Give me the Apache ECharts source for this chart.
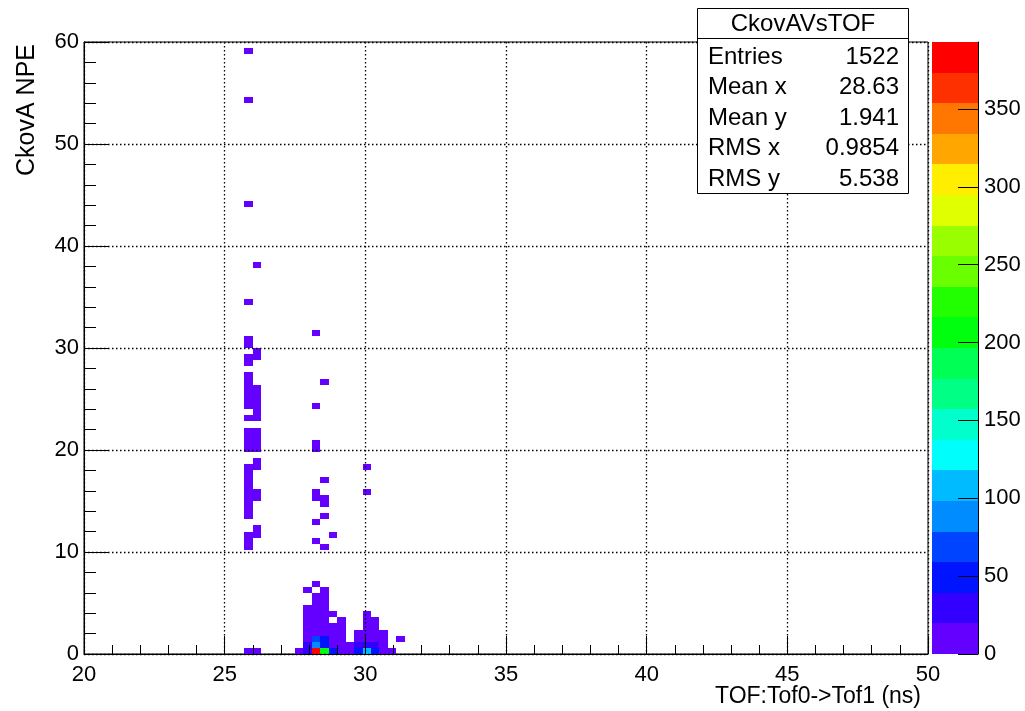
<!DOCTYPE html>
<html>
<head>
<meta charset="utf-8">
<script src="https://cdn.jsdelivr.net/npm/echarts@6/dist/echarts.min.js"></script>
<style>
  html, body { margin: 0; padding: 0; background: #ffffff; }
  #chart { width: 1025px; height: 711px; }
</style>
</head>
<body>
<div id="chart"></div>
<script>
// Histogram binning: 100 x 100 bins over TOF 20-50 ns and NPE 0-60
const TOF_RANGE = [20, 50];
const NPE_RANGE = [0, 60];
const TOF_BIN = 0.3;
const NPE_BIN = 0.6;

// Axis tick values
const tofTicks = [20, 25, 30, 35, 40, 45, 50];
const npeTicks = [0, 10, 20, 30, 40, 50, 60];
const zTicks = [0, 50, 100, 150, 200, 250, 300, 350];

// Filled bins: [TOF low edge (ns), NPE low edge, entries]
// Fast particles near 25.8 ns, light up the Cherenkov counter
const electronCells = [
  [25.7, 58.8, 1], [25.7, 54.0, 1], [25.7, 43.8, 1], [25.7, 34.2, 1],
  [25.7, 30.6, 1], [25.7, 30.0, 1], [25.7, 28.8, 1], [25.7, 28.2, 1],
  [25.7, 27.0, 1], [25.7, 26.4, 1], [25.7, 25.8, 1], [25.7, 25.2, 1],
  [25.7, 24.6, 1], [25.7, 24.0, 1], [25.7, 22.8, 1], [25.7, 21.6, 1],
  [25.7, 21.0, 1], [25.7, 20.4, 1], [25.7, 19.8, 1], [25.7, 18.0, 1],
  [25.7, 17.4, 1], [25.7, 16.8, 1], [25.7, 16.2, 1], [25.7, 15.6, 1],
  [25.7, 15.0, 1], [25.7, 14.4, 1], [25.7, 13.8, 1], [25.7, 13.2, 1],
  [25.7, 11.4, 1], [25.7, 10.8, 1], [25.7, 10.2, 1], [25.7, 0.0, 2],
  [26.0, 37.8, 1], [26.0, 29.4, 1], [26.0, 28.8, 1], [26.0, 25.8, 1],
  [26.0, 25.2, 1], [26.0, 24.6, 1], [26.0, 24.0, 1], [26.0, 23.4, 1],
  [26.0, 22.8, 1], [26.0, 21.6, 1], [26.0, 21.0, 1], [26.0, 20.4, 1],
  [26.0, 19.8, 1], [26.0, 18.6, 1], [26.0, 18.0, 1], [26.0, 15.6, 1],
  [26.0, 15.0, 1], [26.0, 12.0, 1], [26.0, 11.4, 1], [26.0, 0.0, 2]
];

// Main peak around 28.4 ns
const muonCells = [
  [28.1, 31.2, 1], [28.1, 24.0, 1], [28.1, 20.4, 1], [28.1, 19.8, 1],
  [28.1, 15.6, 1], [28.1, 15.0, 1], [28.1, 12.6, 1], [28.1, 10.8, 1],
  [28.4, 26.4, 1], [28.4, 16.8, 1], [28.4, 15.0, 1], [28.4, 14.4, 1],
  [28.4, 13.2, 1], [28.4, 10.2, 1], [28.7, 11.4, 1],
  [28.1, 6.6, 2],
  [27.8, 6.0, 1], [28.4, 6.0, 2],
  [28.1, 5.4, 3], [28.4, 5.4, 2],
  [28.1, 4.8, 4], [28.4, 4.8, 3],
  [27.8, 4.2, 2], [28.1, 4.2, 6], [28.4, 4.2, 5],
  [27.8, 3.6, 3], [28.1, 3.6, 8], [28.4, 3.6, 7], [28.7, 3.6, 2],
  [27.8, 3.0, 4], [28.1, 3.0, 12], [28.4, 3.0, 9], [29.0, 3.0, 2],
  [27.8, 2.4, 5], [28.1, 2.4, 16], [28.4, 2.4, 14], [28.7, 2.4, 4], [29.0, 2.4, 2],
  [27.8, 1.8, 6], [28.1, 1.8, 18], [28.4, 1.8, 17], [28.7, 1.8, 6], [29.0, 1.8, 3],
  [27.8, 1.2, 9], [28.1, 1.2, 64], [28.4, 1.2, 45], [28.7, 1.2, 10], [29.0, 1.2, 4],
  [27.8, 0.6, 22], [28.1, 0.6, 92], [28.4, 0.6, 48], [28.7, 0.6, 14], [29.0, 0.6, 6], [29.3, 0.6, 3],
  [27.5, 0.0, 3], [27.8, 0.0, 30], [28.1, 0.0, 393], [28.4, 0.0, 212], [28.7, 0.0, 44],
  [29.0, 0.0, 12], [29.3, 0.0, 8]
];

// Slower group around 30 ns
const pionCells = [
  [29.9, 18.0, 1], [29.9, 15.6, 1],
  [29.9, 3.6, 1],
  [29.9, 3.0, 3], [30.2, 3.0, 2],
  [29.9, 2.4, 4], [30.2, 2.4, 2],
  [29.6, 1.8, 2], [29.9, 1.8, 6], [30.2, 1.8, 4], [30.5, 1.8, 1],
  [29.6, 1.2, 3], [29.9, 1.2, 8], [30.2, 1.2, 6], [30.5, 1.2, 2], [31.1, 1.2, 1],
  [29.6, 0.6, 22], [29.9, 0.6, 32], [30.2, 0.6, 25], [30.5, 0.6, 5],
  [29.6, 0.0, 40], [29.9, 0.0, 108], [30.2, 0.0, 45], [30.5, 0.0, 12], [30.8, 0.0, 3]
];

// Statistics box text
const statsTitle = 'CkovAVsTOF';
const statsNames = ['Entries', 'Mean x', 'Mean y', 'RMS x', 'RMS y'];
const statsValues = ['1522', '28.63', '1.941', '0.9854', '5.538'];

// Rainbow palette, violet (low) to red (high), 20 contour levels
const palette = [
  '#6300ff', '#3300ff', '#0014ff', '#0044ff', '#008bff',
  '#00bbff', '#00fffc', '#00ffcc', '#00ff85', '#00ff55',
  '#00ff0e', '#22ff00', '#69ff00', '#99ff00', '#e0ff00',
  '#ffee00', '#ffa700', '#ff7700', '#ff3000', '#ff0000'
];

const allCells = electronCells.concat(muonCells, pionCells);
const zMax = Math.max.apply(null, allCells.map(c => c[2]));
const nLevels = palette.length;
const levelStep = zMax / nLevels;

function levelColor(v) {
  let k = Math.floor(0.01 + v / levelStep);
  if (k >= nLevels) k = nLevels - 1;
  if (k < 0) k = 0;
  return palette[k];
}

const paletteBands = palette.map((c, k) => [k * levelStep, (k + 1) * levelStep, k]);

const FONT = 'Liberation Sans';

// Snap a data-space box to whole pixels so neighbouring bins share edges
function binRect(p0, p1) {
  const xa = Math.round(p0[0]), xb = Math.round(p1[0]);
  const ya = Math.round(p1[1]), yb = Math.round(p0[1]);
  return { x: xa, y: ya, width: xb - xa, height: yb - ya };
}

const chart = echarts.init(document.getElementById('chart'), null, { renderer: 'canvas' });

const tickStyle = { color: '#000', width: 1 };
const gridDots = { color: '#000', width: 1.3, type: [1.5, 2.5] };

const option = {
  animation: false,
  backgroundColor: '#ffffff',
  textStyle: { fontFamily: FONT },
  grid: [
    { left: 84, top: 42, width: 844, height: 612, show: true, borderColor: '#000', borderWidth: 1, backgroundColor: 'transparent' },
    { left: 932, top: 42, width: 46, height: 612, show: false }
  ],
  xAxis: [
    {
      type: 'value', gridIndex: 0, position: 'bottom', z: 3,
      min: TOF_RANGE[0], max: TOF_RANGE[1], interval: 5,
      axisLine: { show: true, onZero: false, lineStyle: tickStyle },
      axisTick: { show: true, inside: true, length: 18, lineStyle: tickStyle },
      minorTick: { show: true, splitNumber: 5, length: 9, lineStyle: tickStyle },
      splitLine: { show: true, lineStyle: gridDots },
      axisLabel: {
        show: true, color: '#000', fontSize: 22, fontFamily: FONT, margin: 10,
        showMinLabel: true, showMaxLabel: true,
        customValues: tofTicks
      }
    },
    {
      type: 'value', gridIndex: 1, min: 0, max: 1, show: false
    }
  ],
  yAxis: [
    {
      type: 'value', gridIndex: 0, position: 'left', z: 3,
      min: NPE_RANGE[0], max: NPE_RANGE[1], interval: 10,
      axisLine: { show: true, onZero: false, lineStyle: tickStyle },
      axisTick: { show: true, inside: true, length: 25, lineStyle: tickStyle },
      minorTick: { show: true, splitNumber: 5, length: 12, lineStyle: tickStyle },
      splitLine: { show: true, lineStyle: gridDots },
      axisLabel: {
        show: true, color: '#000', fontSize: 22, fontFamily: FONT, margin: 5,
        showMinLabel: true, showMaxLabel: true,
        customValues: npeTicks
      }
    },
    {
      type: 'value', gridIndex: 1, position: 'right', z: 3,
      min: 0, max: zMax,
      axisLine: { show: true, onZero: false, lineStyle: tickStyle },
      axisTick: { show: true, inside: true, length: 20, lineStyle: tickStyle, customValues: zTicks },
      splitLine: { show: false },
      axisLabel: {
        show: true, color: '#000', fontSize: 22, fontFamily: FONT, margin: 6,
        customValues: zTicks
      }
    }
  ],
  series: [
    {
      name: 'CkovAVsTOF',
      type: 'custom',
      xAxisIndex: 0, yAxisIndex: 0, z: 2,
      data: allCells,
      encode: { x: 0, y: 1 },
      renderItem: function (params, api) {
        const x0 = api.value(0), y0 = api.value(1), v = api.value(2);
        const p0 = api.coord([x0, y0]);
        const p1 = api.coord([x0 + TOF_BIN, y0 + NPE_BIN]);
        return {
          type: 'rect',
          shape: binRect(p0, p1),
          style: { fill: levelColor(v), stroke: null }
        };
      }
    },
    {
      name: 'palette',
      type: 'custom',
      xAxisIndex: 1, yAxisIndex: 1, z: 2,
      data: paletteBands,
      encode: { y: [0, 1] },
      renderItem: function (params, api) {
        const lo = api.value(0), hi = api.value(1), k = api.value(2);
        const p0 = api.coord([0, lo]);
        const p1 = api.coord([1, hi]);
        return {
          type: 'rect',
          shape: binRect(p0, p1),
          style: { fill: palette[k], stroke: null }
        };
      }
    }
  ],
  graphic: [
    // axis titles
    {
      type: 'text', z: 100, x: 921, y: 697,
      style: { text: 'TOF:Tof0->Tof1 (ns)', fill: '#000', font: '23px "Liberation Sans"', align: 'right', verticalAlign: 'middle' }
    },
    {
      type: 'text', z: 100, x: 27, y: 44, rotation: Math.PI / 2,
      style: { text: 'CkovA NPE', fill: '#000', font: '25px "Liberation Sans"', align: 'right', verticalAlign: 'middle' }
    },
    // statistics box
    {
      type: 'rect', z: 100,
      shape: { x: 697.5, y: 8.5, width: 211, height: 185 },
      style: { fill: '#fff', stroke: '#000', lineWidth: 1 }
    },
    {
      type: 'line', z: 101,
      shape: { x1: 697.5, y1: 38.5, x2: 908.5, y2: 38.5 },
      style: { stroke: '#000', lineWidth: 1 }
    },
    {
      type: 'text', z: 102, x: 803, y: 24,
      style: { text: statsTitle, fill: '#000', font: '24px "Liberation Sans"', align: 'center', verticalAlign: 'middle' }
    }
  ].concat(statsNames.map((n, r) => ({
    type: 'text', z: 102, x: 708, y: 57 + r * 30.5,
    style: { text: n, fill: '#000', font: '24px "Liberation Sans"', align: 'left', verticalAlign: 'middle' }
  }))).concat(statsValues.map((v, r) => ({
    type: 'text', z: 102, x: 899, y: 57 + r * 30.5,
    style: { text: v, fill: '#000', font: '24px "Liberation Sans"', align: 'right', verticalAlign: 'middle' }
  })))
};

chart.setOption(option);
</script>
</body>
</html>
